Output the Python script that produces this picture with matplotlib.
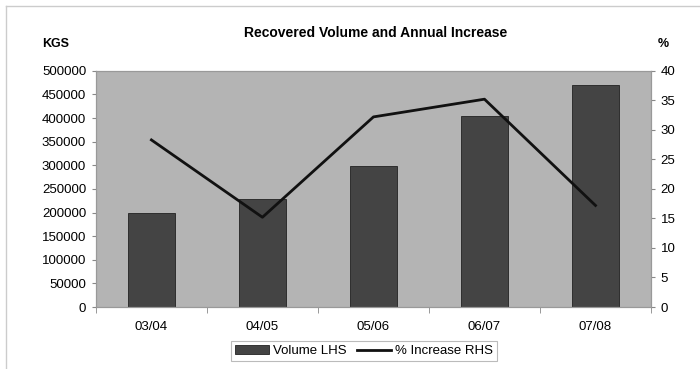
import matplotlib.pyplot as plt
from matplotlib.lines import Line2D
import numpy as np

plt.rcParams['font.family'] = ['Liberation Sans', 'DejaVu Sans']

seasons = ['03/04', '04/05', '05/06', '06/07', '07/08']
volume = [198000, 229000, 299000, 405000, 470000]
pct_increase = [28.3, 15.2, 32.2, 35.2, 17.2]

fig = plt.figure(figsize=(7, 3.69), dpi=100)
ax = fig.add_axes([0.137, 0.168, 0.793, 0.640])
ax2 = ax.twinx()

x = np.arange(len(seasons))
ax.set_facecolor('#b4b4b4')
bars = ax.bar(x, volume, width=0.42, color='#444444', edgecolor='#222222',
              linewidth=0.6, label='Volume LHS', zorder=2)
line, = ax2.plot(x, pct_increase, color='#111111', lw=2.0,
                 label='% Increase RHS', zorder=3)

ax.set_xlim(-0.5, len(seasons) - 0.5)
ax.set_ylim(0, 500000)
ax.set_yticks(np.arange(0, 500001, 50000))
ax.set_yticklabels([str(v) for v in range(0, 500001, 50000)])
ax2.set_ylim(0, 40)
ax2.set_yticks(np.arange(0, 41, 5))

ax.set_xticks(x)
ax.set_xticklabels(seasons)
ax.set_xticks(np.arange(-0.5, len(seasons)), minor=True)
ax.tick_params(axis='x', which='major', length=0, pad=10, labelsize=9.5)
ax.tick_params(axis='x', which='minor', length=4, color='#888888')
ax.tick_params(axis='y', length=3, color='#888888', labelsize=9.5, pad=4)
ax2.tick_params(axis='y', length=3, color='#888888', labelsize=9.5, pad=4)

for a in (ax, ax2):
    for s in a.spines.values():
        s.set_color('#999999')
        s.set_linewidth(0.8)

fig.text(0.536, 0.91, 'Recovered Volume and Annual Increase', ha='center',
         va='center', fontsize=10, fontweight='bold')
fig.text(0.079, 0.88, 'KGS', ha='center', va='center', fontsize=9,
         fontweight='bold')
fig.text(0.947, 0.88, '%', ha='center', va='center', fontsize=9,
         fontweight='bold')

leg = fig.legend([bars, line], ['Volume LHS', '% Increase RHS'],
                 loc='center', bbox_to_anchor=(0.52, 0.048), ncol=2,
                 fontsize=9.5, frameon=True, fancybox=False,
                 handlelength=2.6, handletextpad=0.3, columnspacing=0.8,
                 borderpad=0.3)
leg.get_frame().set_edgecolor('#aaaaaa')
leg.get_frame().set_linewidth(0.8)

# thin frame on the top and left of the chart area
fig.add_artist(Line2D([0.008, 1.0], [0.983, 0.983], color='#cccccc', lw=1))
fig.add_artist(Line2D([0.008, 0.008], [0.0, 0.983], color='#cccccc', lw=1))

fig.savefig('out.png', dpi=100)
